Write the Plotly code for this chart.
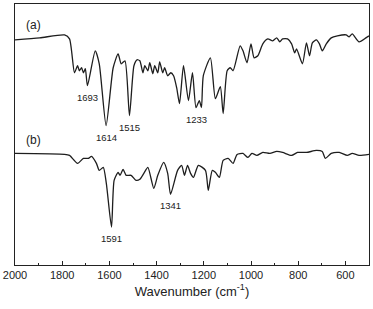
import plotly.graph_objects as go

# Spectrum (a)
wn_a = [2000, 1895, 1790, 1769, 1748, 1735, 1727, 1718, 1710, 1702, 1693, 1660, 1643, 1614,
        1584, 1563, 1550, 1534, 1515, 1496, 1483, 1471, 1458, 1450, 1437, 1429, 1416, 1408,
        1395, 1387, 1374, 1366, 1353, 1340, 1328, 1315, 1303, 1286, 1265, 1248, 1233, 1219,
        1210, 1202, 1172, 1151, 1130, 1118, 1101, 1088, 1076, 1046, 1034, 1017, 1000, 987,
        971, 950, 929, 908, 891, 878, 866, 845, 828, 815, 807, 782, 765, 752, 740, 723, 710,
        698, 681, 660, 634, 597, 584, 571, 542, 513, 500]
t_a = [226, 228, 231, 227, 193, 200, 195, 198, 193, 197, 180, 215, 202, 140,
       198, 212, 202, 205, 150, 200, 206, 205, 193, 200, 195, 203, 192, 200,
       193, 204, 193, 198, 190, 193, 190, 178, 162, 200, 165, 193, 158, 165,
       158, 190, 208, 167, 179, 152, 195, 198, 195, 220, 215, 203, 222, 208,
       210, 222, 227, 225, 228, 224, 227, 227, 222, 213, 217, 202, 223, 210, 223, 226, 222,
       215, 222, 228, 230, 231, 229, 232, 224, 228, 230]

# Spectrum (b)
wn_b = [2000, 1790, 1769, 1735, 1710, 1689, 1676, 1655, 1643, 1626, 1613, 1591, 1580, 1563,
        1555, 1542, 1529, 1508, 1487, 1471, 1454, 1437, 1412, 1395, 1370, 1353, 1341, 1311,
        1294, 1282, 1269, 1256, 1244, 1223, 1193, 1181, 1164, 1151, 1134, 1118, 1097, 1076,
        1059, 1034, 1013, 996, 975, 950, 920, 891, 866, 828, 803, 765, 723, 698, 685, 660,
        626, 592, 571, 542, 500]
t_b = [112, 111, 110, 102, 107, 107, 109, 102, 95, 98, 82, 38, 85, 93,
       90, 96, 90, 90, 85, 86, 92, 98, 77, 90, 103, 92, 71, 95,
       100, 90, 100, 92, 88, 100, 95, 75, 95, 93, 88, 105, 107, 102,
       111, 112, 108, 112, 110, 113, 112, 114, 113, 110, 113, 113, 115, 114, 107, 112,
       113, 110, 112, 110, 111]

# Peak labels
peaks_a = [1693, 1614, 1515, 1233]
peaks_a_t = [180, 140, 150, 158]
peaks_b = [1591, 1341]
peaks_b_t = [38, 71]

x_ticks = [2000, 1800, 1600, 1400, 1200, 1000, 800, 600]

fig = go.Figure()
fig.add_trace(go.Scatter(x=wn_a, y=t_a, mode="lines",
                         line=dict(color="#1e1e1e", width=1.3, shape="spline", smoothing=0.6),
                         showlegend=False))
fig.add_trace(go.Scatter(x=wn_b, y=t_b, mode="lines",
                         line=dict(color="#1e1e1e", width=1.3, shape="spline", smoothing=0.6),
                         showlegend=False))

font_fam = "Liberation Sans, Arial, sans-serif"
for wn, t in zip(peaks_a + peaks_b, peaks_a_t + peaks_b_t):
    fig.add_annotation(x=wn, y=t, text=str(wn), showarrow=False, yanchor="top", yshift=-4,
                       font=dict(family=font_fam, size=9.5, color="#222222"))

fig.add_annotation(x=0.025, xref="paper", xanchor="left", y=241, text="(a)", showarrow=False,
                   font=dict(family=font_fam, size=12, color="#222222"))
fig.add_annotation(x=0.025, xref="paper", xanchor="left", y=125, text="(b)", showarrow=False,
                   font=dict(family=font_fam, size=12, color="#222222"))

fig.update_layout(
    width=373, height=309,
    margin=dict(l=13, r=3, t=3, b=44),
    paper_bgcolor="white", plot_bgcolor="white",
    font=dict(family=font_fam, color="#222222"),
)
fig.update_xaxes(
    range=[2000, 500], tickvals=x_ticks, ticktext=[str(v) for v in x_ticks],
    ticks="inside", ticklen=4, tickwidth=1.2, tickcolor="#222222",
    minor=dict(ticks="inside", ticklen=2, dtick=100, tickcolor="#222222", tickwidth=1.2),
    showline=True, linecolor="#222222", linewidth=1.3, mirror=True, showgrid=False, zeroline=False,
    tickfont=dict(size=11, color="#222222"),
    title=dict(text="Wavenumber (cm<sup>-1</sup>)", font=dict(size=13, color="#222222"), standoff=6),
)
fig.update_yaxes(
    range=[0, 262], showticklabels=False, ticks="", showline=True, linecolor="#222222",
    linewidth=1.3, mirror=True, showgrid=False, zeroline=False,
)

fig.write_html("out.html", config={"displayModeBar": False},
               post_script="document.body.style.margin='0';")
